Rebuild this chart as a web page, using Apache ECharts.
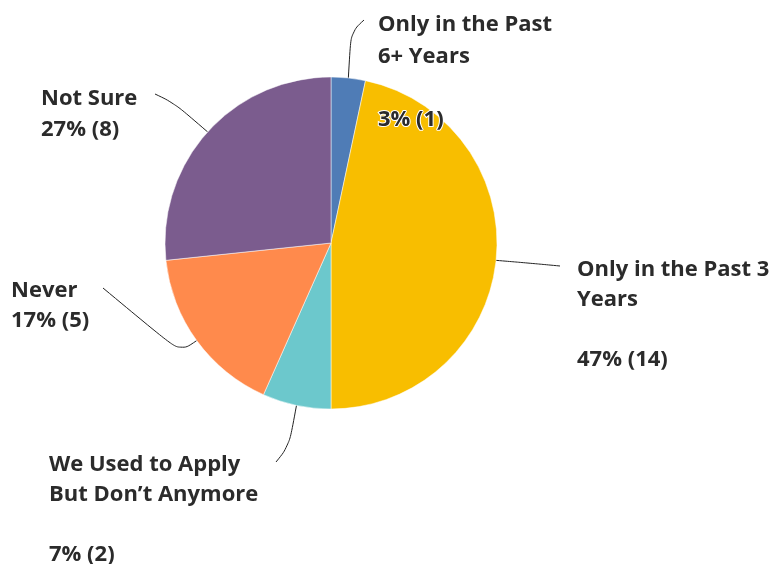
<!DOCTYPE html>
<html>
<head>
<meta charset="utf-8">
<script src="https://cdn.jsdelivr.net/npm/echarts@6/dist/echarts.min.js"></script>
<style>html,body{margin:0;padding:0;background:#fff}#c{width:776px;height:564px}</style>
</head>
<body>
<div id="c"></div>
<script>
const categories = ["Only in the Past\n6+ Years", "Only in the Past 3\nYears", "We Used to Apply\nBut Don’t Anymore", "Never", "Not Sure"];
const counts = [1, 14, 2, 5, 8];
const colors = ["#4f7cb6", "#f8be00", "#6cc8cc", "#ff8a4c", "#7b5c8e"];

const total = counts.reduce((a, b) => a + b, 0);
// label text block top-left, line height, and label line bend/end points
const labelPos = [
  {x: 378, y: 9, lh: 31.5, bend: [351, 32], end: [364, 20]},
  {x: 577, y: 255, lh: 30, bend: [528, 263], end: [560, 266]},
  {x: 49, y: 450, lh: 30, bend: [289, 446], end: [276, 462]},
  {x: 11, y: 276, lh: 29.5, bend: [180, 352], end: [103, 288]},
  {x: 41, y: 83, lh: 31, bend: [174, 103], end: [155, 94]}
];

const chart = echarts.init(document.getElementById('c'), null, {renderer: 'canvas'});
chart.setOption({
  animation: false,
  series: [{
    type: 'pie',
    center: [331, 243],
    radius: 166,
    startAngle: 90,
    clockwise: true,
    avoidLabelOverlap: false,
    itemStyle: {borderColor: '#fff', borderWidth: 0.5},
    label: {
      show: true,
      fontFamily: 'Open Sans',
      fontWeight: 'bold',
      fontSize: 22,
      lineHeight: 30,
      color: '#2b2b2b',
      textBorderColor: '#fff',
      textBorderWidth: 2,
      formatter: function (p) {
        const pct = Math.round(p.value / total * 100);
        const gap = p.name.indexOf('\n') >= 0 ? '\n\n' : '\n';
        return p.name + gap + pct + '% (' + p.value + ')';
      }
    },
    labelLine: {
      show: true,
      smooth: 0.4,
      lineStyle: {color: '#222', width: 1}
    },
    labelLayout: function (params) {
      const p = labelPos[params.dataIndex];
      const out = {x: p.x, y: p.y, align: 'left', verticalAlign: 'top'};
      if (params.labelLinePoints && params.labelLinePoints.length) {
        out.labelLinePoints = [params.labelLinePoints[0], p.bend, p.end];
      }
      return out;
    },
    data: categories.map((n, i) => ({
      name: n,
      value: counts[i],
      itemStyle: {color: colors[i]},
      label: {lineHeight: labelPos[i].lh}
    }))
  }]
});
</script>
</body>
</html>
